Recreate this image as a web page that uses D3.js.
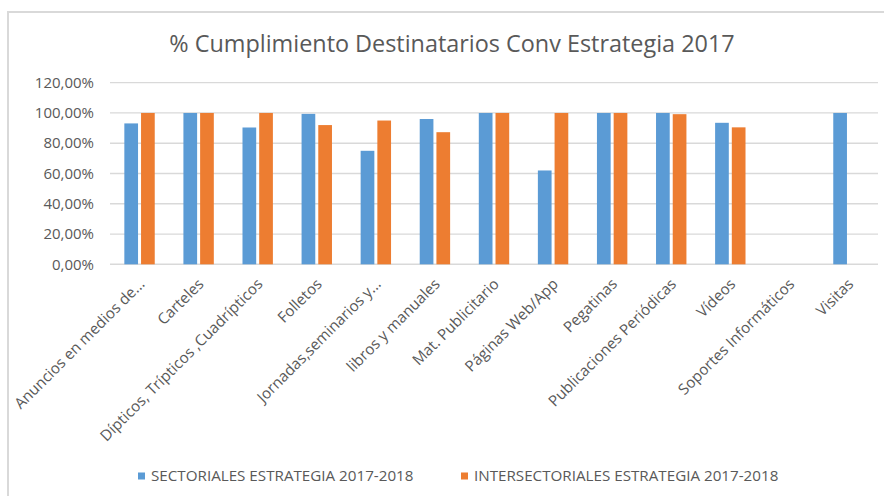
<!DOCTYPE html>
<html lang="es">
<head>
<meta charset="UTF-8">
<title>% Cumplimiento Destinatarios Conv Estrategia 2017</title>
<script src="https://d3js.org/d3.v7.min.js"></script>
<style>
  body { margin: 0; background: #fff; font-family: "Open Sans", Arial, sans-serif; }
  text { fill: #595959; }
</style>
</head>
<body>
<svg width="884" height="496"></svg>
<script>
const categories = ["Anuncios en medios de...", "Carteles", "Dípticos, Trípticos ,Cuadrípticos", "Folletos",
  "Jornadas,seminarios y...", "libros y manuales", "Mat. Publicitario", "Páginas Web/App", "Pegatinas",
  "Publicaciones Periódicas", "Vídeos", "Soportes Informáticos", "Visitas"];
const seriesNames = ["SECTORIALES ESTRATEGIA 2017-2018", "INTERSECTORIALES ESTRATEGIA 2017-2018"];
const sectoriales = [93.1, 100, 90.4, 99.4, 75, 96, 100, 62, 100, 100, 93.5, null, 100];
const intersectoriales = [100, 100, 100, 92, 95, 87.3, 100, 100, 100, 99.2, 90.5, null, null];
const yTicks = [0, 20, 40, 60, 80, 100, 120];
const colors = ["#5B9BD5", "#ED7D31"];

const svg = d3.select("svg");

// marco del gráfico
svg.append("rect")
  .attr("x", 8).attr("y", 12).attr("width", 900).attr("height", 520)
  .attr("fill", "none").attr("stroke", "#d9d9d9").attr("stroke-width", 2);

svg.append("text")
  .attr("x", 452).attr("y", 52)
  .attr("text-anchor", "middle")
  .style("font-size", "23.4px")
  .text("% Cumplimiento Destinatarios Conv Estrategia 2017");

const x = d3.scaleBand().domain(categories).range([110, 878]).padding(0);
const y = d3.scaleLinear().domain([0, 120]).range([264.3, 82.7]);
const xSub = d3.scaleBand().domain([0, 1]).range([-15.2, 15.2]).paddingInner(0.18);

// líneas de la cuadrícula
svg.append("g")
  .selectAll("line")
  .data(yTicks)
  .join("line")
  .attr("x1", 110).attr("x2", 878)
  .attr("y1", d => y(d)).attr("y2", d => y(d))
  .attr("stroke", "#d9d9d9").attr("stroke-width", d => d === 0 ? 1.6 : 1.3);

svg.append("g")
  .selectAll("text")
  .data(yTicks)
  .join("text")
  .attr("x", 94).attr("y", d => y(d))
  .attr("dy", "0.35em")
  .attr("text-anchor", "end")
  .style("font-size", "15px")
  .text(d => d3.format(".2f")(d).replace(".", ",") + "%");

const rows = categories.map((c, i) => ({ cat: c, vals: [sectoriales[i], intersectoriales[i]] }));

// barras
svg.append("g")
  .selectAll("g")
  .data(rows)
  .join("g")
  .attr("transform", d => `translate(${x(d.cat) + x.bandwidth() / 2},0)`)
  .selectAll("rect")
  .data(d => d.vals.map((v, k) => ({ v, k })).filter(e => e.v != null))
  .join("rect")
  .attr("x", d => xSub(d.k))
  .attr("width", xSub.bandwidth())
  .attr("y", d => y(d.v))
  .attr("height", d => y(0) - y(d.v))
  .attr("fill", d => colors[d.k]);

// etiquetas del eje x
svg.append("g")
  .selectAll("text")
  .data(categories)
  .join("text")
  .attr("transform", d => `translate(${x(d) + x.bandwidth() / 2 + 6},285) rotate(-45)`)
  .attr("text-anchor", "end")
  .style("font-size", "15.2px")
  .text(d => d);

// leyenda
const legend = svg.append("g");
const legendX = [138, 461];
seriesNames.forEach((s, i) => {
  legend.append("rect")
    .attr("x", legendX[i]).attr("y", 472.5)
    .attr("width", 7).attr("height", 7)
    .attr("fill", colors[i]);
  legend.append("text")
    .attr("x", legendX[i] + 13).attr("y", 476)
    .attr("dy", "0.35em")
    .style("font-size", "15.2px")
    .text(s);
});
</script>
</body>
</html>
